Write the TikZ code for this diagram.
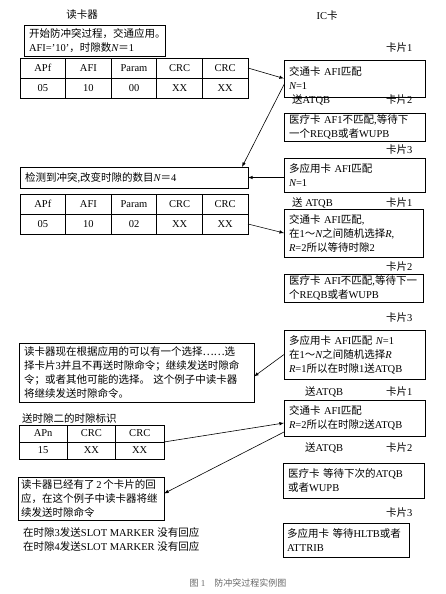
\documentclass[tikz,border=0pt]{standalone}
\usepackage{fontspec}
\setmainfont{Liberation Serif}
\newfontfamily\cjk{Noto Sans CJK SC}
\usepackage{tikz}
\usetikzlibrary{positioning, arrows}
% CJK characters are set in the CJK font, the rest in the serif
\newXeTeXintercharclass\cjkclass
\newcount\cjkcode
\cjkcode="4E00
\loop\XeTeXcharclass\cjkcode=\cjkclass \advance\cjkcode by 1 \ifnum\cjkcode<"A000 \repeat
\cjkcode="3000
\loop\XeTeXcharclass\cjkcode=\cjkclass \advance\cjkcode by 1 \ifnum\cjkcode<"3040 \repeat
\cjkcode="FF00
\loop\XeTeXcharclass\cjkcode=\cjkclass \advance\cjkcode by 1 \ifnum\cjkcode<"FFF0 \repeat
\XeTeXcharclass"2026=\cjkclass
\XeTeXinterchartoks 0 \cjkclass = {\cjk}
\XeTeXinterchartoks 4095 \cjkclass = {\cjk}
\XeTeXinterchartoks \cjkclass 0 = {\rmfamily}
\XeTeXinterchartoks \cjkclass 4095 = {\rmfamily}
\XeTeXinterchartokenstate=1
\tikzstyle{readerbox} = [rectangle, 
draw=black, 
line width=0.8pt, 
anchor=north west, 
inner xsep=5pt, 
inner ysep=2pt, 
outer sep=0pt, 
align=left]
\tikzstyle{cardbox} = [readerbox, 
text width=131pt]
\tikzstyle{cell} = [rectangle, 
draw=black, 
line width=0.8pt, 
minimum width=45.6pt, 
minimum height=20pt, 
inner sep=0pt, 
outer sep=0pt, 
text centered]
\tikzstyle{smallcell} = [cell, 
minimum width=48.3pt, 
minimum height=17pt]
\tikzstyle{cardtag} = [anchor=west, inner sep=0pt]
\tikzstyle{arrow} = [line width=0.6pt,->,>=latex]

\begin{document}
\begin{tikzpicture}[x=1pt, y=-1pt, font=\fontsize{10.5}{14}\selectfont]
\useasboundingbox (0,0) rectangle (445,594);
\node (readertitle) at (82,15) {读卡器};
\node (cardtitle) at (327,16) {IC卡};

% reader side
\node (start) [readerbox, text width=131pt, minimum height=31pt] at (24,25) {开始防冲突过程，交通应用。\\AFI='10'，时隙数{\itshape N}＝1};
\node (t1h1) [cell, anchor=north west] at (20,58) {APf};
\node (t1h2) [cell, right=0pt of t1h1] {AFI};
\node (t1h3) [cell, right=0pt of t1h2] {Param};
\node (t1h4) [cell, right=0pt of t1h3] {CRC};
\node (t1h5) [cell, right=0pt of t1h4] {CRC};
\node (t1v1) [cell, below=0pt of t1h1] {05};
\node (t1v2) [cell, below=0pt of t1h2] {10};
\node (t1v3) [cell, below=0pt of t1h3] {00};
\node (t1v4) [cell, below=0pt of t1h4] {XX};
\node (t1v5) [cell, below=0pt of t1h5] {XX};

\node (collision) [readerbox, text width=218pt, minimum height=21pt] at (20,167) {检测到冲突,改变时隙的数目{\itshape N}＝4};
\node (t2h1) [cell, anchor=north west] at (20,194) {APf};
\node (t2h2) [cell, right=0pt of t2h1] {AFI};
\node (t2h3) [cell, right=0pt of t2h2] {Param};
\node (t2h4) [cell, right=0pt of t2h3] {CRC};
\node (t2h5) [cell, right=0pt of t2h4] {CRC};
\node (t2v1) [cell, below=0pt of t2h1] {05};
\node (t2v2) [cell, below=0pt of t2h2] {10};
\node (t2v3) [cell, below=0pt of t2h3] {02};
\node (t2v4) [cell, below=0pt of t2h4] {XX};
\node (t2v5) [cell, below=0pt of t2h5] {XX};

\node (bigbox) [readerbox, text width=225pt, minimum height=59pt] at (19,343) {读卡器现在根据应用的可以有一个选择……选\\择卡片3并且不再送时隙命令；继续发送时隙命\\令；或者其他可能的选择。 这个例子中读卡器\\将继续发送时隙命令。};
\node (slotid) [cardtag] at (22,418) {送时隙二的时隙标识};
\node (t3h1) [smallcell, anchor=north west] at (19,425) {APn};
\node (t3h2) [smallcell, right=0pt of t3h1] {CRC};
\node (t3h3) [smallcell, right=0pt of t3h2] {CRC};
\node (t3v1) [smallcell, below=0pt of t3h1] {15};
\node (t3v2) [smallcell, below=0pt of t3h2] {XX};
\node (t3v3) [smallcell, below=0pt of t3h3] {XX};

\node (gotbox) [readerbox, inner xsep=3pt, text width=140pt, minimum height=43pt] at (18,477) {读卡器已经有了\,2\,个卡片的回\\应，在这个例子中读卡器将继\\续发送时隙命令};
\node (slot3) [cardtag] at (23,532) {在时隙3发送SLOT MARKER 没有回应};
\node (slot4) [cardtag] at (23,546) {在时隙4发送SLOT MARKER 没有回应};
\node (caption) [text=black!60, font=\fontsize{9}{11}\selectfont] at (238,583) {图 1\quad 防冲突过程实例图};

% card side
\node (tag1a) [cardtag] at (386,48) {卡片1};
\node (card1) [cardbox, minimum height=37pt] at (284,60) {交通卡 AFI匹配\\{\itshape N}=1};
\node (send1) [cardtag] at (292,100) {送ATQB};
\node (tag2a) [cardtag] at (386,100) {卡片2};
\node (card2) [cardbox, minimum height=28pt] at (284,113) {医疗卡 AF1不匹配,等待下\\一个REQB或者WUPB};
\node (tag3a) [cardtag] at (386,150) {卡片3};
\node (card3) [cardbox, minimum height=34pt] at (284,158) {多应用卡 AFI匹配\\{\itshape N}=1};
\node (send2) [cardtag] at (292,203) {送 ATQB};
\node (tag1b) [cardtag] at (386,203) {卡片1};
\node (card1b) [cardbox, text width=129pt, minimum height=48pt] at (284,209) {交通卡 AFI匹配,\\在1～{\itshape N}之间随机选择{\itshape R},\\{\itshape R}=2所以等待时隙2};
\node (tag2b) [cardtag] at (386,267) {卡片2};
\node (card2b) [cardbox, text width=129pt, minimum height=27pt] at (284,274) {医疗卡 AFI不匹配,等待下一\\个REQB或者WUPB};
\node (tag3b) [cardtag] at (386,318) {卡片3};
\node (card3b) [cardbox, minimum height=49pt] at (284,330) {多应用卡 AFI匹配 {\itshape N}=1\\在1～{\itshape N}之间随机选择{\itshape R}\\{\itshape R}=1所以在时隙1送ATQB};
\node (send3) [cardtag] at (305,392) {送ATQB};
\node (tag1c) [cardtag] at (386,392) {卡片1};
\node (card1c) [cardbox, minimum height=36pt] at (284,400) {交通卡 AFI匹配\\{\itshape R}=2所以在时隙2送ATQB};
\node (send4) [cardtag] at (305,448) {送ATQB};
\node (tag2c) [cardtag] at (386,448) {卡片2};
\node (card2c) [cardbox, minimum height=35pt] at (283,463) {医疗卡 等待下次的ATQB\\或者WUPB};
\node (tag3c) [cardtag] at (386,513) {卡片3};
\node (card3c) [cardbox, inner xsep=4pt, text width=118pt, minimum height=34pt] at (283,523) {多应用卡 等待HLTB或者\\ATTRIB};

\draw [arrow] (t1h5.east) -- (card1.west);
\draw [arrow] ([yshift=-6pt]card1.west) -- ([xshift=-6pt]collision.north east);
\draw [arrow] (card3.west |- collision.east) -- (collision.east);
\draw [arrow] (t2v5.east) -- (card1b.west);
\draw [arrow] (card3b.west) -- ([yshift=-4pt]bigbox.east);
\draw [arrow] (t3h3.south east) -- ([yshift=-5pt]card1c.west);
\draw [arrow] ([yshift=-14pt]card1c.west) -- ([yshift=5pt]gotbox.east);

\end{tikzpicture}
\end{document}
